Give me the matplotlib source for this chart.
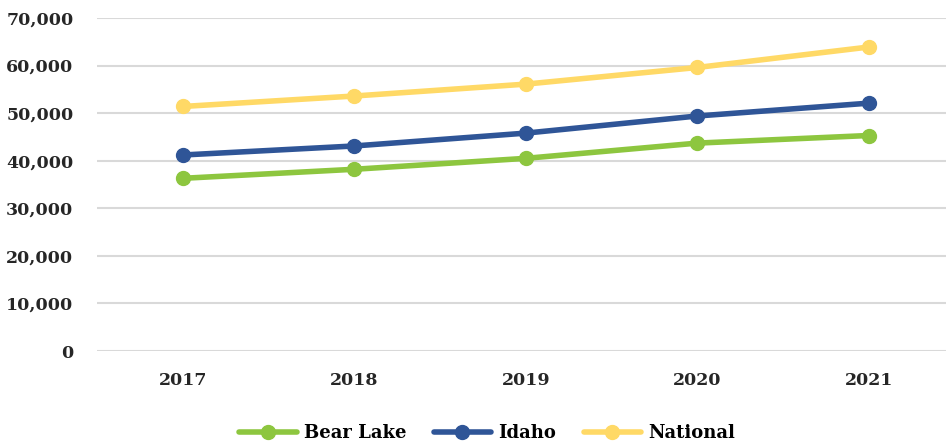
import matplotlib.pyplot as plt
from matplotlib.ticker import FuncFormatter

# ── Data ──
years     = ['2017', '2018', '2019', '2020', '2021']
bear_lake = [36300, 38200, 40500, 43700, 45300]
idaho     = [41200, 43100, 45800, 49400, 52100]
national  = [51400, 53600, 56100, 59600, 63900]

series = [
    ('Bear Lake', bear_lake, '#8DC63F'),
    ('Idaho',     idaho,     '#2F5597'),
    ('National',  national,  '#FFD966'),
]

plt.rcParams['font.family'] = ['DejaVu Serif']
plt.rcParams['font.weight'] = 'bold'

fig = plt.figure(figsize=(9.46, 4.47), dpi=100)
ax = fig.add_axes([97 / 946, 96 / 447, 1 - 97 / 946, (351 - 18) / 447])

x = range(len(years))
for name, vals, col in series:
    ax.plot(x, vals, color=col, linewidth=4, marker='o', markersize=10,
            label=name, solid_capstyle='round', zorder=3)

ax.set_ylim(0, 70000)
ax.set_xlim(-0.5, 4.45)
ax.set_yticks(range(0, 70001, 10000))
ax.yaxis.set_major_formatter(FuncFormatter(lambda v, p: f'{int(v):,}'))
ax.set_xticks(list(x))
ax.set_xticklabels(years)

ax.grid(axis='y', color='#D9D9D9', linewidth=1.5)
ax.set_axisbelow(True)
for s in ax.spines.values():
    s.set_visible(False)
ax.tick_params(length=0, labelsize=12.5, colors='#262626')
ax.tick_params(axis='y', pad=17)
ax.tick_params(axis='x', pad=15)

fig.legend(loc='lower center', bbox_to_anchor=(0.515, -0.025), ncol=3, frameon=False,
           handlelength=3.2, columnspacing=1.5, handletextpad=0.4,
           prop={'size': 13, 'weight': 'bold'})

fig.savefig('out.png', dpi=100)
